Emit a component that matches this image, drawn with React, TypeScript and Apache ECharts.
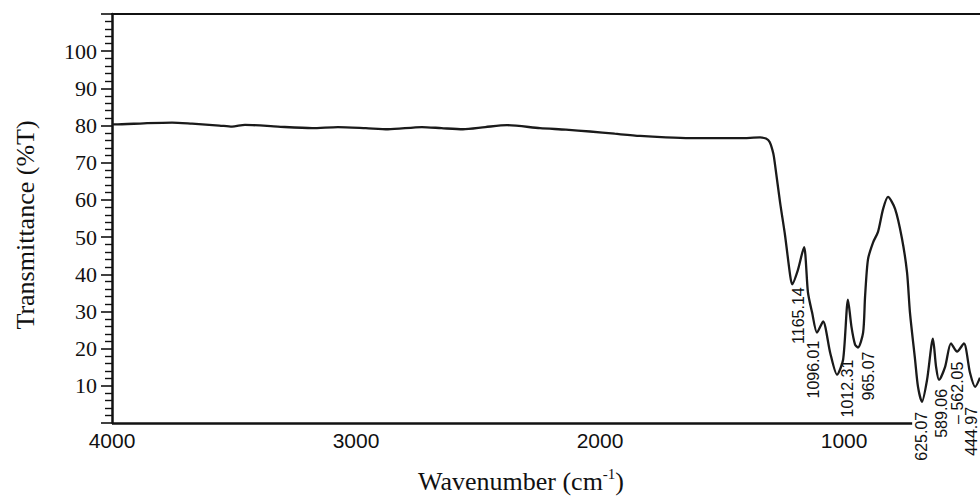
import React, { useEffect, useRef } from "react";
import * as echarts from "echarts";

// Spectrum (wavenumber in cm-1, transmittance in %T)
const wavenumbers = [
  4000, 3988, 3870, 3754, 3672, 3560, 3508, 3455, 3320, 3180, 3074, 2960, 2869, 2730, 2650, 2562,
  2470, 2381, 2246, 2140, 2041, 1940, 1836, 1730, 1631, 1530, 1426, 1344, 1320, 1305, 1290, 1283,
  1262, 1242, 1221, 1213, 1190, 1164, 1148, 1131, 1111, 1086, 1057, 1029, 1004, 984, 970, 955,
  943, 922, 914, 902, 881, 861, 840, 820, 791, 763, 742, 730, 709, 697, 681, 660, 636, 623, 611,
  586, 562, 537, 509, 484, 463, 443,
];
const transmittance = [
  80.3, 80.3, 80.6, 80.8, 80.5, 80.0, 79.7, 80.2, 79.7, 79.3, 79.6, 79.3, 79.0, 79.6, 79.3, 79.0,
  79.6, 80.1, 79.3, 78.9, 78.4, 77.8, 77.2, 76.8, 76.6, 76.6, 76.6, 76.8, 76.5, 75.6, 72.5, 69.5,
  59.2, 50.5, 39.7, 37.3, 41.0, 47.3, 35.1, 29.7, 24.3, 27.3, 18.9, 13.0, 17.0, 33.2, 26.0, 21.1,
  20.3, 24.3, 34.0, 44.0, 48.6, 51.4, 57.6, 60.8, 57.6, 49.7, 40.5, 29.7, 17.0, 9.7, 5.7, 11.6,
  22.7, 15.1, 11.6, 15.1, 21.4, 19.2, 21.4, 13.5, 9.7, 12.2,
];

// Peak annotations: text, and the band (wavenumber, %T) each one marks
const peakLabels = ["1165.14", "1096.01", "1012.31", "965.07", "625.07", "589.06", "\u2013 562.05", "444.97"];
const peakWn = [1213, 1111, 1029, 943, 681, 611, 537, 463];
const peakT = [37.3, 24.3, 13.0, 20.3, 5.7, 11.6, 19.2, 9.7];

// Axis tick labels
const xTickValues = [4000, 3000, 2000, 1000];
const yMin = 0;
const yMax = 110;
const yInterval = 10;
const xMin = 443;
const xMax = 4000;
const xAxisLineEnd = 721;

export default function App() {
  const ref = useRef<HTMLDivElement>(null);

  useEffect(() => {
    if (!ref.current) return;
    const chart = echarts.init(ref.current, null, { renderer: "svg" });

    // label offsets in pixels relative to each marked band (styling only)
    const labelDx = [6, -3, 10, 11, 0, 2, 0, -4];
    const labelDy = [3, 8, -15, 4, 10, 9, 10, 20];

    const spectrum = wavenumbers.map((w, i) => [w, transmittance[i]]);
    const peaks = peakWn.map((w, i) => [w, peakT[i]]);

    const serif = "'Liberation Serif', 'Times New Roman', serif";
    const sans = "'Liberation Sans', Arial, sans-serif";

    chart.setOption({
      animation: false,
      backgroundColor: "#ffffff",
      grid: { left: 112, right: 0, top: 14, bottom: 81, containLabel: false },
      xAxis: [
        {
          type: "value",
          inverse: true,
          min: xMin,
          max: xMax,
          position: "bottom",
          axisLine: { show: false },
          axisTick: { show: false },
          splitLine: { show: false },
          axisLabel: {
            customValues: xTickValues,
            formatter: (v: number) => String(v),
            color: "#111",
            fontFamily: sans,
            fontSize: 21,
            margin: 7,
          },
          name: "{a|Wavenumber (cm}{s|-1}{a|)}",
          nameLocation: "middle",
          nameGap: 43,
          nameTextStyle: {
            padding: [0, 50, 0, 0],
            rich: {
              a: { fontFamily: serif, fontSize: 26, color: "#111", lineHeight: 30 },
              s: { fontFamily: serif, fontSize: 15, color: "#111", lineHeight: 30, verticalAlign: "top" },
            },
          },
        },
        {
          type: "value",
          inverse: true,
          min: xMin,
          max: xMax,
          position: "top",
          axisLine: { show: true, lineStyle: { color: "#111", width: 2 } },
          axisTick: { show: false },
          axisLabel: { show: false },
          splitLine: { show: false },
        },
      ],
      yAxis: {
        type: "value",
        min: yMin,
        max: yMax,
        interval: yInterval,
        axisLine: { show: true, lineStyle: { color: "#111", width: 2.5 } },
        axisTick: { show: true, inside: false, length: 11, lineStyle: { color: "#111", width: 1.6 } },
        minorTick: { show: true, splitNumber: 5, length: 7, lineStyle: { color: "#111", width: 1.4 } },
        splitLine: { show: false },
        axisLabel: {
          color: "#111",
          fontFamily: serif,
          fontSize: 22,
          margin: 15,
          formatter: (v: number) => (v <= yMin || v >= yMax ? "" : String(v)),
        },
        name: "Transmittance (%T)",
        nameLocation: "middle",
        nameGap: 74,
        nameTextStyle: { fontFamily: serif, fontSize: 26, color: "#111", padding: [0, 13, 0, 0] },
      },
      series: [
        {
          type: "line",
          data: spectrum,
          showSymbol: false,
          symbol: "none",
          smooth: 0.25,
          lineStyle: { color: "#1a1a1a", width: 2.3 },
          markLine: {
            silent: true,
            symbol: "none",
            label: { show: false },
            lineStyle: { color: "#111", width: 2.5, type: "solid" },
            data: [[{ coord: [xMax, yMin] }, { coord: [xAxisLineEnd, yMin] }]],
          },
        },
        {
          type: "custom",
          clip: false,
          data: peaks,
          renderItem: (params: any, api: any) => {
            const i = params.dataIndex;
            const p = api.coord([api.value(0), api.value(1)]);
            return {
              type: "text",
              x: p[0] + labelDx[i],
              y: p[1] + labelDy[i],
              rotation: Math.PI / 2,
              style: {
                text: peakLabels[i],
                fontFamily: sans,
                fontSize: 16,
                fill: "#111",
                align: "right",
                verticalAlign: "middle",
              },
            };
          },
        },
      ],
    });

    return () => chart.dispose();
  }, []);

  return (
    <div
      ref={ref}
      style={{ position: "fixed", left: 0, top: 0, width: 980, height: 504 }}
    />
  );
}
